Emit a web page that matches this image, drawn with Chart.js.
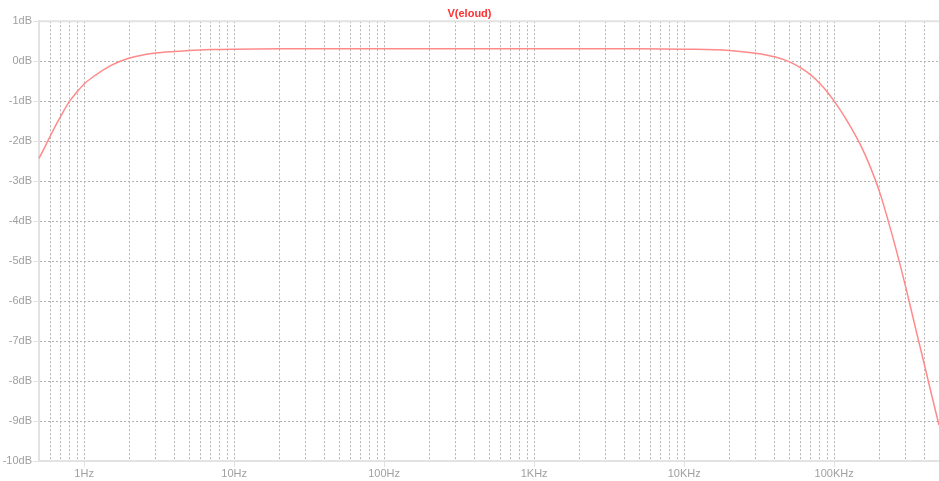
<!DOCTYPE html>
<html>
<head>
<meta charset="utf-8">
<script src="https://cdn.jsdelivr.net/npm/chart.js"></script>
<style>
  html, body { margin: 0; padding: 0; background: #fff; }
</style>
</head>
<body>
<canvas id="bode" width="939" height="481"></canvas>
<script>
// Frequency response of V(eloud), magnitude in dB
const freq_hz = [
  0.5, 0.55, 0.6, 0.7, 0.8, 0.9, 1, 1.2, 1.5, 2, 2.5, 3, 4, 5, 7, 10, 20, 100, 1000, 5000, 10000,
  20000, 30000, 40000, 50000, 60000, 70000, 80000, 90000, 100000, 120000, 150000, 170000,
  200000, 250000, 300000, 350000, 400000, 450000, 500000
];
const gain_db = [
  -2.43, -2.13, -1.84, -1.37, -1.0, -0.76, -0.57, -0.34, -0.11, 0.08, 0.16, 0.205, 0.245, 0.27, 0.29, 0.30, 0.31, 0.31, 0.31, 0.31, 0.30,
  0.27, 0.20, 0.11, -0.01, -0.17, -0.35, -0.55, -0.77, -1.0, -1.45, -2.1, -2.55,
  -3.25, -4.5, -5.65, -6.7, -7.6, -8.4, -9.1
];

// axis ticks
const freq_decades = [1, 10, 100, 1000, 10000, 100000];
const freq_tick_labels = ['1Hz', '10Hz', '100Hz', '1KHz', '10KHz', '100KHz'];
const db_ticks = [-10, -9, -8, -7, -6, -5, -4, -3, -2, -1, 0, 1];
const db_tick_labels = ['-10dB', '-9dB', '-8dB', '-7dB', '-6dB', '-5dB', '-4dB', '-3dB', '-2dB', '-1dB', '0dB', '1dB'];

const f_min = 0.5, f_max = 500000;
const label_font = { family: 'Liberation Sans, Arial, sans-serif', size: 11 };
const grid_color = '#b2b2b2';
const edge_color = '#e2e2e2';

// every 1..9 x 10^n line between f_min and f_max
var freq_grid = [];
for (var n = -1; n <= 5; n++) {
  for (var m = 1; m <= 9; m++) {
    var v = m * Math.pow(10, n);
    if (v >= f_min - 1e-9 && v <= f_max + 1e-9) freq_grid.push(v);
  }
}

// solid line along the top of the plot area
const topEdge = {
  id: 'topEdge',
  beforeDatasetsDraw(chart) {
    const {ctx, chartArea} = chart;
    ctx.save();
    ctx.strokeStyle = edge_color;
    ctx.lineWidth = 2;
    ctx.beginPath();
    ctx.moveTo(chartArea.left, chartArea.top);
    ctx.lineTo(chartArea.right, chartArea.top);
    ctx.stroke();
    ctx.restore();
  }
};

new Chart('bode', {
  type: 'line',
  data: {
    datasets: [{
      label: 'V(eloud)',
      data: freq_hz.map((f, i) => ({x: f, y: gain_db[i]})),
      borderColor: '#ff8a8a',
      borderWidth: 1.5,
      pointRadius: 0,
      cubicInterpolationMode: 'monotone',
      clip: false
    }]
  },
  options: {
    responsive: false,
    animation: false,
    layout: { padding: 0 },
    plugins: {
      legend: { display: false },
      tooltip: { enabled: false },
      title: {
        display: true,
        text: 'V(eloud)',
        color: '#ff3030',
        font: { family: 'Liberation Sans, Arial, sans-serif', size: 11, weight: 'bold' },
        padding: { top: 7, bottom: 1 }
      }
    },
    scales: {
      x: {
        type: 'logarithmic',
        min: f_min,
        max: f_max,
        afterBuildTicks: (scale) => { scale.ticks = freq_grid.map(v => ({value: v})); },
        afterFit: (scale) => { scale.height = 20; },
        ticks: {
          autoSkip: false,
          maxRotation: 0,
          padding: 0,
          color: '#a0a0a0',
          font: label_font,
          callback: (value) => {
            const i = freq_decades.indexOf(value);
            return i >= 0 ? freq_tick_labels[i] : '';
          }
        },
        grid: {
          color: grid_color,
          lineWidth: 1,
          tickLength: 6,
          tickBorderDash: [],
          tickColor: (c) => (c.tick && freq_decades.indexOf(c.tick.value) >= 0) ? edge_color : 'rgba(0,0,0,0)'
        },
        border: { color: edge_color, width: 2, dash: [2, 2] }
      },
      y: {
        min: -10,
        max: 1,
        afterBuildTicks: (scale) => { scale.ticks = db_ticks.map(v => ({value: v})); },
        afterFit: (scale) => { scale.width = 39; },
        ticks: {
          padding: 1,
          color: '#a0a0a0',
          font: label_font,
          callback: (value) => db_tick_labels[db_ticks.indexOf(value)]
        },
        grid: {
          color: grid_color,
          lineWidth: 1,
          tickLength: 6,
          tickBorderDash: [],
          tickColor: edge_color
        },
        border: { color: edge_color, width: 2, dash: [2, 2] }
      }
    }
  },
  plugins: [topEdge]
});
</script>
</body>
</html>
